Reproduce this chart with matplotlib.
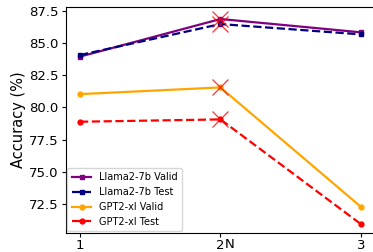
import matplotlib
matplotlib.use("Agg")
import matplotlib.pyplot as plt

N = [1, 2, 3]
llama_valid = [83.93, 86.84, 85.81]
llama_test = [84.05, 86.45, 85.65]
gpt2_valid = [81.02, 81.54, 72.29]
gpt2_test = [78.88, 79.06, 70.95]
best_idx = 1
yticks = [72.5, 75.0, 77.5, 80.0, 82.5, 85.0, 87.5]

fig = plt.figure(figsize=(3.73, 2.52), dpi=100)
ax = fig.add_axes([0.177, 0.0766, 0.828, 0.894])

series = [
    ("Llama2-7b Valid", llama_valid, "purple", "-", "s"),
    ("Llama2-7b Test", llama_test, "navy", "--", "s"),
    ("GPT2-xl Valid", gpt2_valid, "orange", "-", "o"),
    ("GPT2-xl Test", gpt2_test, "red", "--", "o"),
]
for label, vals, c, ls, m in series:
    ax.plot(N, vals, color=c, linestyle=ls, marker=m, markersize=3.5,
            linewidth=1.6, label=label)
for label, vals, c, ls, m in series:
    ax.plot([N[best_idx]], [vals[best_idx]], marker="x", color="red",
            markersize=12, markeredgewidth=0.9, linestyle="none", alpha=0.8)

ax.set_xlim(0.9, 3.1)
ax.set_ylim(70.28, 87.74)
ax.set_xticks(N)
ax.set_yticks(yticks)
ax.tick_params(axis="y", labelsize=9.5, length=3, pad=2.5)
ax.tick_params(axis="x", labelsize=9.5, length=3, pad=1.5)
ax.set_ylabel("Accuracy (%)", fontsize=10.5, labelpad=2)
ax.set_xlabel("N", fontsize=9.5)
ax.xaxis.set_label_coords(0.531, -0.025)
ax.legend(loc="lower left", fontsize=7, handlelength=2, borderpad=0.45,
          labelspacing=0.5, handletextpad=0.8, borderaxespad=0.15)

fig.savefig("out.png", dpi=100)
